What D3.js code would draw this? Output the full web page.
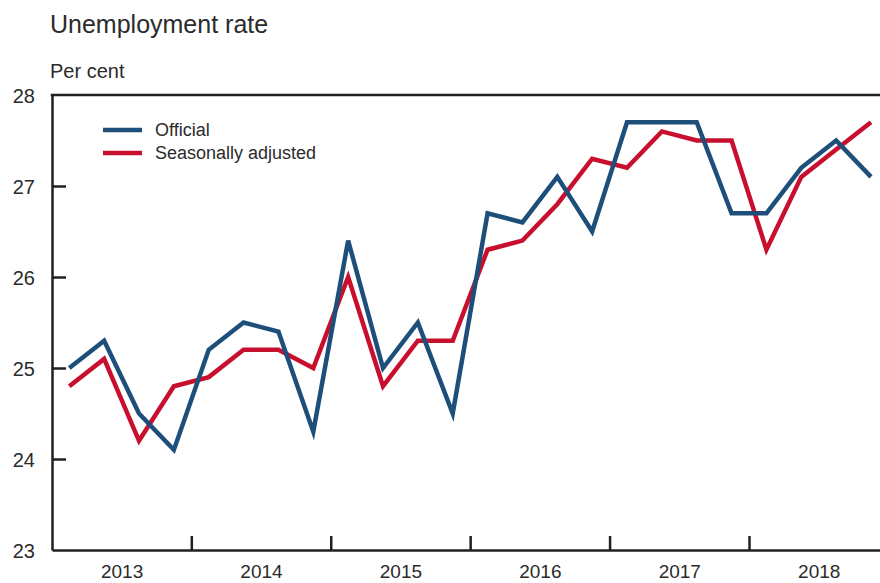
<!DOCTYPE html>
<html>
<head>
<meta charset="utf-8">
<script src="https://cdn.jsdelivr.net/npm/d3@7/dist/d3.min.js"></script>
<style>
  html, body { margin: 0; padding: 0; background: #fff; }
  svg text { font-family: "Liberation Sans", Arial, Helvetica, sans-serif; fill: #2b2b2b; }
</style>
</head>
<body>
<svg id="chart" width="880" height="583"></svg>
<script>
// ---- Data (quarterly, 2013Q1 – 2018Q4) ----
const years = ["2013", "2014", "2015", "2016", "2017", "2018"];
const quarters = ["Q1", "Q2", "Q3", "Q4"];
const official = [25.0, 25.3, 24.5, 24.1, 25.2, 25.5, 25.4, 24.3, 26.4, 25.0, 25.5, 24.5,
                  26.7, 26.6, 27.1, 26.5, 27.7, 27.7, 27.7, 26.7, 26.7, 27.2, 27.5, 27.1];
const seasonallyAdjusted = [24.8, 25.1, 24.2, 24.8, 24.9, 25.2, 25.2, 25.0, 26.0, 24.8, 25.3, 25.3,
                            26.3, 26.4, 26.8, 27.3, 27.2, 27.6, 27.5, 27.5, 26.3, 27.1, 27.4, 27.7];
const yTicks = [23, 24, 25, 26, 27, 28];
const seriesNames = ["Official", "Seasonally adjusted"];
const seriesColors = ["#1d4f7a", "#c8102e"];

(function () {
const svg = d3.select("#chart");
const mLeft = 52, mTop = 95, mBottom = 550, mRight = 880;

const n = official.length;
const x = d3.scaleLinear().domain([0, n - 1]).range([69.3, 871]);
const y = d3.scaleLinear().domain([23, 28]).range([mBottom, mTop]);

// Title
svg.append("text").attr("x", 50).attr("y", 33).style("font-size", "25px").text("Unemployment rate");
svg.append("text").attr("x", 50).attr("y", 78).style("font-size", "20px").text("Per cent");

// Y axis
const yAxis = d3.axisLeft(y).tickValues(yTicks).tickSizeInner(-14).tickSizeOuter(0).tickPadding(17)
  .tickFormat(d3.format("d"));
const gy = svg.append("g").attr("transform", `translate(${mLeft},0)`).call(yAxis);
gy.selectAll("text").style("font-size", "20px").attr("dy", "0.35em");
gy.selectAll("line").attr("stroke", "#231f20").attr("stroke-width", 2.5);
gy.select(".domain").attr("stroke", "#231f20").attr("stroke-width", 2.5);
gy.selectAll(".tick").filter(d => d === 23 || d === 28).select("line").remove();

// X axis (extended scale to cover plot frame)
const xFrame = x.copy().domain([x.invert(mLeft), x.invert(mRight)]).range([mLeft, mRight]);
const boundaries = years.slice(1).map((_, i) => (i + 1) * quarters.length - 0.5);
const xAxisTicks = d3.axisBottom(xFrame).tickValues(boundaries).tickSizeInner(-14).tickSizeOuter(0).tickFormat("");
const gx = svg.append("g").attr("transform", `translate(0,${mBottom})`).call(xAxisTicks);
gx.selectAll("line").attr("stroke", "#231f20").attr("stroke-width", 2.5);
gx.select(".domain").attr("stroke", "#231f20").attr("stroke-width", 2.5);

const yearCenters = years.map((_, i) => i * quarters.length + (quarters.length - 1) / 2);
const xAxisLabels = d3.axisBottom(xFrame).tickValues(yearCenters).tickSize(0).tickPadding(15)
  .tickFormat((d, i) => years[i]);
const gxl = svg.append("g").attr("transform", `translate(0,${mBottom})`).call(xAxisLabels);
gxl.select(".domain").remove();
gxl.selectAll("text").style("font-size", "19px");

// Top frame line
svg.append("line").attr("x1", mLeft - 1.25).attr("x2", mRight).attr("y1", mTop).attr("y2", mTop)
  .attr("stroke", "#231f20").attr("stroke-width", 2.5);

// Lines
const line = d3.line().x((d, i) => x(i)).y(d => y(d));
[seasonallyAdjusted, official].forEach((s) => {
  const k = s === official ? 0 : 1;
  svg.append("path").datum(s).attr("d", line).attr("fill", "none")
    .attr("stroke", seriesColors[k]).attr("stroke-width", 4.5)
    .attr("stroke-linejoin", "miter").attr("stroke-linecap", "butt");
});

// Legend
seriesNames.forEach((name, k) => {
  const ly = 130 + k * 23;
  svg.append("line").attr("x1", 103).attr("x2", 142).attr("y1", ly).attr("y2", ly)
    .attr("stroke", seriesColors[k]).attr("stroke-width", 4.5);
  svg.append("text").attr("x", 155).attr("y", ly).attr("dy", "0.35em").style("font-size", "18px").text(name);
});
})();
</script>
</body>
</html>
